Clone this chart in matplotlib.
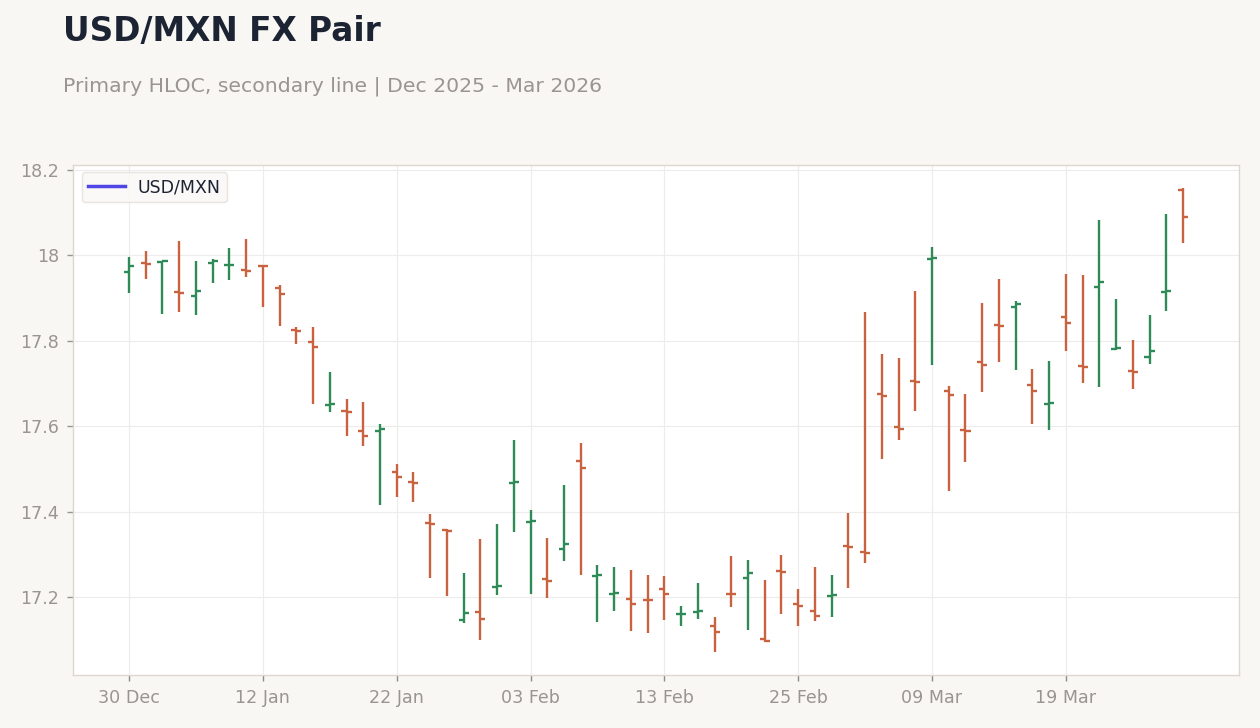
import matplotlib
matplotlib.use("Agg")
import matplotlib.pyplot as plt

# USD/MXN daily HLOC, business days 30 Dec 2025 - 30 Mar 2026
opens = [17.962, 17.982, 17.984, 17.914, 17.906, 17.983, 17.977, 17.966, 17.976, 17.923,
         17.825, 17.798, 17.650, 17.635, 17.589, 17.589, 17.493, 17.470, 17.374, 17.358,
         17.147, 17.166, 17.223, 17.467, 17.375, 17.241, 17.313, 17.519, 17.250, 17.207,
         17.195, 17.194, 17.219, 17.159, 17.165, 17.131, 17.208, 17.245, 17.102, 17.260,
         17.183, 17.168, 17.202, 17.320, 17.306, 17.676, 17.599, 17.705, 17.991, 17.683,
         17.591, 17.751, 17.838, 17.880, 17.697, 17.652, 17.856, 17.742, 17.927, 17.781,
         17.730, 17.763, 17.914, 18.152]
highs = [17.996, 18.010, 17.987, 18.034, 17.987, 17.992, 18.017, 18.038, 17.977, 17.931,
         17.832, 17.832, 17.727, 17.664, 17.657, 17.605, 17.511, 17.493, 17.394, 17.359,
         17.256, 17.336, 17.371, 17.568, 17.404, 17.338, 17.462, 17.561, 17.275, 17.270,
         17.263, 17.252, 17.249, 17.179, 17.233, 17.153, 17.296, 17.287, 17.240, 17.298,
         17.219, 17.270, 17.252, 17.397, 17.867, 17.769, 17.760, 17.917, 18.020, 17.694,
         17.675, 17.889, 17.945, 17.893, 17.734, 17.753, 17.956, 17.954, 18.083, 17.898,
         17.802, 17.860, 18.097, 18.159]
lows = [17.913, 17.945, 17.863, 17.868, 17.861, 17.936, 17.943, 17.950, 17.878, 17.835,
        17.792, 17.651, 17.633, 17.578, 17.554, 17.416, 17.435, 17.423, 17.245, 17.203,
        17.140, 17.100, 17.205, 17.353, 17.208, 17.198, 17.285, 17.252, 17.142, 17.168,
        17.121, 17.116, 17.146, 17.133, 17.149, 17.072, 17.177, 17.123, 17.095, 17.161,
        17.133, 17.144, 17.154, 17.220, 17.280, 17.523, 17.568, 17.636, 17.744, 17.449,
        17.515, 17.681, 17.751, 17.732, 17.604, 17.592, 17.777, 17.702, 17.692, 17.778,
        17.688, 17.746, 17.870, 18.030]
closes = [17.974, 17.979, 17.987, 17.912, 17.917, 17.986, 17.978, 17.964, 17.975, 17.910,
          17.823, 17.786, 17.653, 17.633, 17.578, 17.593, 17.482, 17.468, 17.372, 17.355,
          17.163, 17.149, 17.225, 17.469, 17.377, 17.238, 17.325, 17.503, 17.252, 17.209,
          17.184, 17.192, 17.208, 17.161, 17.167, 17.119, 17.207, 17.257, 17.096, 17.258,
          17.180, 17.156, 17.204, 17.317, 17.304, 17.671, 17.594, 17.703, 17.993, 17.674,
          17.589, 17.744, 17.835, 17.887, 17.683, 17.654, 17.842, 17.739, 17.938, 17.784,
          17.728, 17.777, 17.916, 18.091]

tick_pos = [0, 8, 16, 24, 32, 40, 48, 56]
tick_labels = ["30 Dec", "12 Jan", "22 Jan", "03 Feb", "13 Feb", "25 Feb", "09 Mar", "19 Mar"]

up_col = "#2e8b57"
down_col = "#c8623f"
line_col = "#4f46e5"
grey = "#9a9590"

fig = plt.figure(figsize=(12.6, 7.28), dpi=100, facecolor="#f8f7f4")
ax = fig.add_axes([73 / 1260, 1 - 675 / 728, 1166 / 1260, 510 / 728])
ax.set_facecolor("white")

x = list(range(len(opens)))
cols = [up_col if c >= o else down_col for o, c in zip(opens, closes)]
w = 0.3
ax.vlines(x, lows, highs, colors=cols, lw=1.7, zorder=3)
ax.hlines(opens, [i - w for i in x], x, colors=cols, lw=1.7, zorder=3)
ax.hlines(closes, x, [i + w for i in x], colors=cols, lw=1.7, zorder=3)

# secondary line series (only appears in legend)
ax.plot([], [], color=line_col, lw=2.5, label="USD/MXN")

ax.set_xlim(-3.35, 66.35)
ax.set_ylim(17.0173, 18.2117)
ax.set_yticks([17.2, 17.4, 17.6, 17.8, 18.0, 18.2])
ax.set_yticklabels(["17.2", "17.4", "17.6", "17.8", "18", "18.2"])
ax.set_xticks(tick_pos)
ax.set_xticklabels(tick_labels)
ax.grid(True, color="#eeeceb", lw=0.8, zorder=0)
ax.set_axisbelow(True)
for s in ax.spines.values():
    s.set_color("#ddd7d0")
    s.set_linewidth(1)
ax.tick_params(colors=grey, labelsize=12.6, length=4, width=1, pad=6)
ax.tick_params(axis="x", colors="#8f8a85", labelcolor=grey)

leg = ax.legend(loc="upper left", fontsize=12.5, frameon=True, handlelength=2.1,
                handletextpad=0.75, borderpad=0.35, borderaxespad=0,
                bbox_to_anchor=(0.0077, 0.986))
leg.get_frame().set_facecolor("#f9f8f5")
leg.get_frame().set_edgecolor("#e3ded8")
for t in leg.get_texts():
    t.set_color("#1c2333")

fig.text(63 / 1260, 1 - 41 / 728, "USD/MXN FX Pair", fontsize=23.6, fontweight="bold",
         color="#1c2333", ha="left", va="baseline")
fig.text(63 / 1260, 1 - 91 / 728, "Primary HLOC, secondary line | Dec 2025 - Mar 2026",
         fontsize=14.7, color=grey, ha="left", va="baseline")

fig.savefig("out.png", dpi=100, facecolor=fig.get_facecolor())
